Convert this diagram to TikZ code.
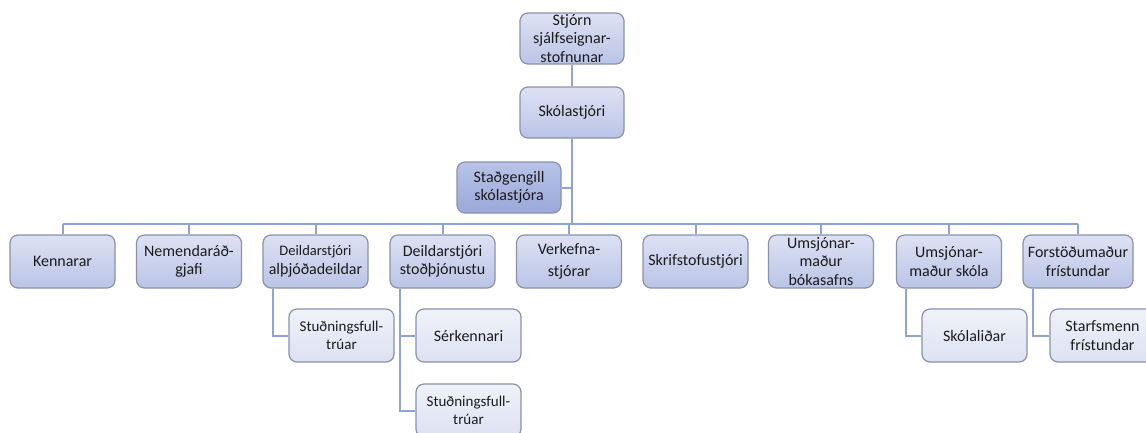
\documentclass[tikz,border=0pt]{standalone}
\usepackage{fontspec}
\setmainfont{Carlito}
\definecolor{linec}{HTML}{8FA3D6}
\definecolor{boxborder}{HTML}{8A92AA}
\definecolor{lvtop}{HTML}{DDE1F3}
\definecolor{lvbot}{HTML}{BAC4E6}
\definecolor{dktop}{HTML}{B9C3E8}
\definecolor{dkbot}{HTML}{9AA8DA}
\definecolor{lttop}{HTML}{F0F2F9}
\definecolor{ltbot}{HTML}{DCE1F2}
\definecolor{txt}{HTML}{1C1C1C}
\tikzset{
  orgbox/.style={draw=boxborder, line width=1.2pt, rounded corners=8pt,
    minimum width=105pt, minimum height=53pt, inner sep=1pt, align=center,
    text=txt, font=\fontsize{16}{18.5}\selectfont,
    top color=lvtop, bottom color=lvbot},
  darkbox/.style={orgbox, top color=dktop, bottom color=dkbot},
  subbox/.style={orgbox, top color=lttop, bottom color=ltbot},
  conn/.style={draw=linec, line width=2pt},
  small/.style={font=\fontsize{15}{18}\selectfont}
}
\begin{document}
\begin{tikzpicture}[x=1pt,y=-1pt]
\useasboundingbox[fill=white] (0,0) rectangle (1146,432);
\node[orgbox, minimum width=104pt, minimum height=51pt] (stjorn) at (572,38.5) {Stjórn\\sjálfseignar-\\stofnunar};
\node[orgbox, minimum width=104pt, minimum height=51pt] (skola) at (572,112.5) {Skólastjóri};
\node[darkbox, minimum width=104pt, minimum height=51pt] (stad) at (509,187.5) {Staðgengill\\skólastjóra};
\coordinate (bus) at (572,224);
\node[orgbox] (ken) at (62.5,261.5) {Kennarar};
\node[orgbox] (nem) at (189,261.5) {Nemendaráð-\\gjafi};
\node[orgbox] (alth) at (315.5,261.5) {{\fontsize{14.5}{17}\selectfont Deildarstjóri}\\alþjóðadeildar};
\node[orgbox] (stod) at (442.5,261.5) {Deildarstjóri\\stoðþjónustu};
\node[orgbox] (verk) at (569,261.5) {Verkefna-\\[4pt]stjórar};
\node[orgbox] (skrif) at (695.5,261.5) {Skrifstofustjóri};
\node[orgbox] (bok) at (821,261.5) {Umsjónar-\\maður\\bókasafns};
\node[orgbox] (ums) at (949,261.5) {Umsjónar-\\maður skóla};
\node[orgbox, minimum width=110pt] (forst) at (1078,261.5) {Forstöðumaður\\frístundar};
\node[subbox, small] (stu1) at (341.5,335.5) {Stuðningsfull-\\trúar};
\node[subbox] (ser) at (468.5,335.5) {Sérkennari};
\node[subbox, small] (stu2) at (468.5,410.5) {Stuðningsfull-\\trúar};
\node[subbox] (skl) at (974.5,335.5) {Skólaliðar};
\node[subbox] (stf) at (1102.5,335.5) {Starfsmenn\\frístundar};
\draw[conn] (stjorn.south) -- (skola.north);
\draw[conn] (skola.south) -- (bus);
\draw[conn] (stad.east) -- (stad.east -| skola.south);
\draw[conn] (ken.north |- bus) -- (forst.north |- bus);
\foreach \n in {ken,nem,alth,stod,verk,skrif,bok,ums,forst}
  \draw[conn] (\n.north) -- (\n.north |- bus);
\draw[conn] ([xshift=11pt]alth.south west) |- (stu1.west);
\draw[conn] ([xshift=11pt]stod.south west) |- (ser.west);
\draw[conn] ([xshift=11pt]stod.south west) |- (stu2.west);
\draw[conn] ([xshift=10pt]ums.south west) |- (skl.west);
\draw[conn] ([xshift=11pt]forst.south west) |- (stf.west);
\end{tikzpicture}
\end{document}
